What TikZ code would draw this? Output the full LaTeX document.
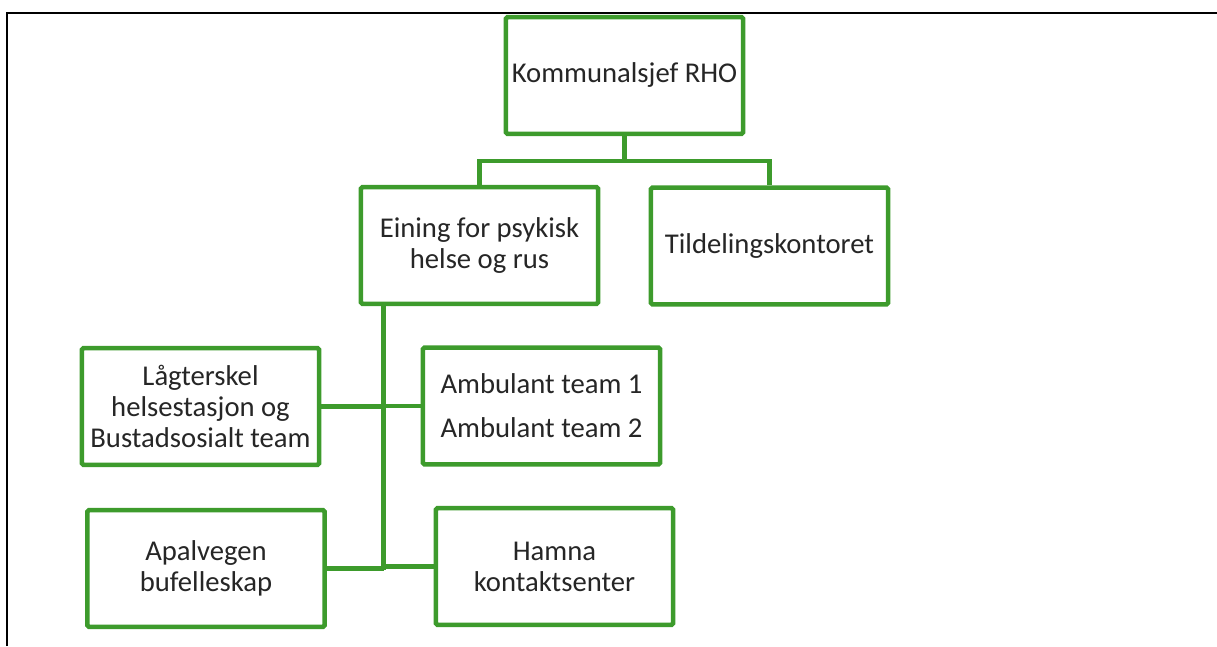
\documentclass[tikz,border=0pt]{standalone}
\usepackage{fontspec}
\setmainfont{Carlito}
\usepackage{tikz}
\definecolor{orggreen}{RGB}{61,155,44}
\definecolor{orgtext}{RGB}{38,38,38}

\begin{document}
\begin{tikzpicture}[x=0.75pt,y=-0.75pt,
    unit/.style={draw=orggreen, line width=3.4pt, rounded corners=1.2pt, fill=white, align=center, text=orgtext,
        minimum width=178pt, minimum height=87.5pt, inner sep=0pt, font=\fontsize{21.5pt}{23.25pt}\selectfont},
    link/.style={draw=orggreen, line width=3.1pt}]

    %Frame
    \useasboundingbox (0,0) rectangle (1217,646);
    \draw[line width=1.5pt] (7,646) -- (7,13) -- (1217,13); %Left and top edge

    %Top level
    \node[unit] (boss) at (624.5,75.5) {Kommunalsjef RHO}; %Head
    \node[unit] (eining) at (479.5,245.5) {Eining for psykisk\\helse og rus}; %Unit
    \node[unit] (tildel) at (769.5,246) {Tildelingskontoret}; %Office

    %Services
    \node[unit] (lag) at (200.5,406.5) {Lågterskel\\helsestasjon og\\Bustadsosialt team}; %Left upper
    \node[unit] (amb) at (541.5,406) {Ambulant team 1\\[9.75pt]Ambulant team 2}; %Right upper
    \node[unit] (apal) at (206,568.5) {Apalvegen\\bufelleskap}; %Left lower
    \node[unit] (hamna) at (554.5,566.5) {Hamna\\kontaktsenter}; %Right lower

    %Connectors
    \coordinate (fork) at (624.5,161);
    \coordinate (trunk) at (383.5,570);
    \draw[link] (boss.south) -- (fork); %Head down
    \draw[link] (eining.north) |- (fork) -| (tildel.north); %Split
    \draw[link] (eining.south -| trunk) -- (trunk); %Trunk
    \draw[link] (lag.east) -- (lag.east -| trunk);
    \draw[link] (amb.west) -- (amb.west -| trunk);
    \draw[link] (apal.east) -- (apal.east -| trunk);
    \draw[link] (hamna.west) -- (hamna.west -| trunk);

\end{tikzpicture}
\end{document}
